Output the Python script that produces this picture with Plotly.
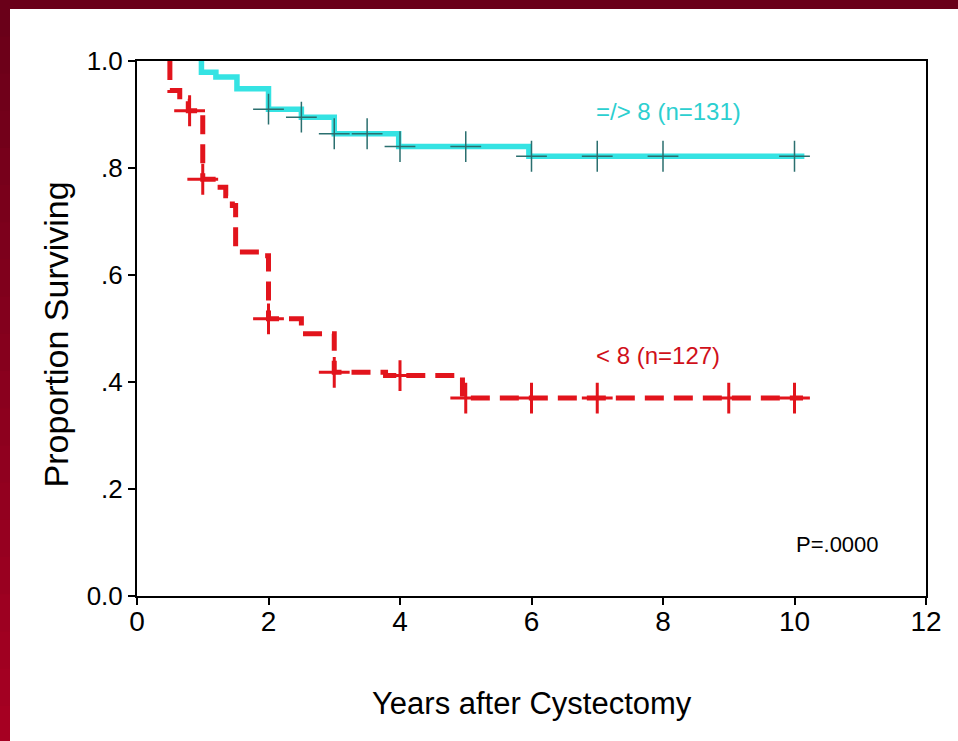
import plotly.graph_objects as go

# ---- data ----
hi_label = "=/> 8 (n=131)"
hi_t = [0.98, 0.98, 1.20, 1.52, 2.00, 2.50, 3.00, 3.98, 5.96, 10.15]
hi_s = [1.000, 0.979, 0.970, 0.948, 0.910, 0.895, 0.864, 0.840, 0.822, 0.822]
hi_cens_t = [2.0, 2.5, 3.0, 3.5, 4.0, 5.0, 6.0, 7.0, 8.0, 10.0]
hi_cens_s = [0.910, 0.895, 0.864, 0.864, 0.840, 0.840, 0.822, 0.822, 0.822, 0.822]

lo_label = "< 8 (n=127)"
lo_t = [0.50, 0.50, 0.65, 0.78, 1.00, 1.20, 1.35, 1.45, 1.50, 1.88, 2.00, 2.50, 3.00, 3.78, 4.95, 10.13]
lo_s = [1.000, 0.945, 0.925, 0.907, 0.779, 0.764, 0.748, 0.730, 0.643, 0.636, 0.518, 0.490, 0.418, 0.412, 0.370, 0.370]
lo_cens_t = [0.80, 1.00, 2.00, 3.00, 4.00, 5.00, 6.00, 7.00, 9.00, 10.00]
lo_cens_s = [0.907, 0.779, 0.518, 0.418, 0.412, 0.370, 0.370, 0.370, 0.370, 0.370]

x_ticks = [0, 2, 4, 6, 8, 10, 12]
y_ticks = [0.0, 0.2, 0.4, 0.6, 0.8, 1.0]
y_tick_labels = ["0.0", ".2", ".4", ".6", ".8", "1.0"]
x_title = "Years after Cystectomy"
y_title = "Proportion Surviving"
p_text = "P=.0000"

CYAN = "#35e3e3"
RED = "#e2141c"
FONT = "Liberation Sans Narrow, Arial Narrow, Liberation Sans, Arial, sans-serif"

fig = go.Figure()
fig.add_trace(go.Scatter(x=hi_t, y=hi_s, mode="lines", line_shape="hv",
                         line=dict(color=CYAN, width=5.5), showlegend=False, hoverinfo="skip"))
fig.add_trace(go.Scatter(x=hi_cens_t, y=hi_cens_s, mode="markers", showlegend=False,
                         marker=dict(symbol="cross-thin", size=22,
                                     line=dict(color="#2b6f6f", width=1.5)), hoverinfo="skip"))
fig.add_trace(go.Scatter(x=lo_t, y=lo_s, mode="lines", line_shape="hv",
                         line=dict(color=RED, width=5, dash="19px,10px"), showlegend=False, hoverinfo="skip"))
fig.add_trace(go.Scatter(x=lo_cens_t, y=lo_cens_s, mode="markers", showlegend=False,
                         marker=dict(symbol="cross-thin", size=22,
                                     line=dict(color=RED, width=3)), hoverinfo="skip"))

# maroon frame (top band and left band with slight gradient)
shapes = [dict(type="rect", xref="paper", yref="paper", xsizemode="pixel", ysizemode="pixel",
               xanchor=0, yanchor=1, x0=-140, x1=900, y0=62, y1=52,
               fillcolor="#6a0019", line=dict(width=0), layer="above")]
n = 20
c0 = (0x6a, 0x00, 0x19)
c1 = (0xa6, 0x00, 0x22)
top, bot = 62, -682
for i in range(n):
    f = i / (n - 1)
    col = "rgb(%d,%d,%d)" % tuple(round(a + (b - a) * f) for a, b in zip(c0, c1))
    ya = top + (bot - top) * i / n
    yb = top + (bot - top) * (i + 1) / n
    shapes.append(dict(type="rect", xref="paper", yref="paper", xsizemode="pixel", ysizemode="pixel",
                       xanchor=0, yanchor=1, x0=-140, x1=-127, y0=ya, y1=yb - 1,
                       fillcolor=col, line=dict(width=0), layer="above"))

fig.update_layout(
    width=958, height=741,
    margin=dict(l=137, r=32, t=61, b=145),
    paper_bgcolor="white", plot_bgcolor="white",
    font=dict(family=FONT, color="black"),
    shapes=shapes,
    xaxis=dict(range=[0, 12], tickvals=x_ticks, ticks="outside", ticklen=7, tickwidth=1.5,
               tickcolor="black", showline=True, linecolor="black", linewidth=2, mirror=True,
               showgrid=False, zeroline=False, tickfont=dict(size=28, family=FONT),
               ticklabelstandoff=-8, layer="above traces"),
    yaxis=dict(range=[0, 1.0], tickvals=y_ticks, ticktext=y_tick_labels, ticks="outside", ticklen=7,
               tickwidth=1.5, tickcolor="black", showline=True, linecolor="black", linewidth=2,
               mirror=True, showgrid=False, zeroline=False, tickfont=dict(size=26, family=FONT),
               layer="above traces"),
    annotations=[
        dict(x=0.5, y=0, xref="paper", yref="paper", text=x_title, showarrow=False,
             xanchor="center", yanchor="middle", yshift=-107,
             font=dict(size=31, family=FONT, color="black")),
        dict(x=0, y=0.5, xref="paper", yref="paper", text=y_title, showarrow=False,
             textangle=-90, xanchor="center", yanchor="middle", xshift=-82, yshift=-6,
             font=dict(size=34, family=FONT, color="black")),
        dict(x=8.08, y=0.905, xref="x", yref="y", text=hi_label, showarrow=False,
             font=dict(size=24, color="#2ccfd0", family=FONT)),
        dict(x=7.93, y=0.45, xref="x", yref="y", text=lo_label, showarrow=False,
             font=dict(size=24, color="#d0101a", family=FONT)),
        dict(x=10.65, y=0.097, xref="x", yref="y", text=p_text, showarrow=False,
             font=dict(size=22, color="black", family=FONT)),
    ],
)

fig.write_html("out.html", config={"displayModeBar": False},
               post_script="document.body.style.margin='0px';")
